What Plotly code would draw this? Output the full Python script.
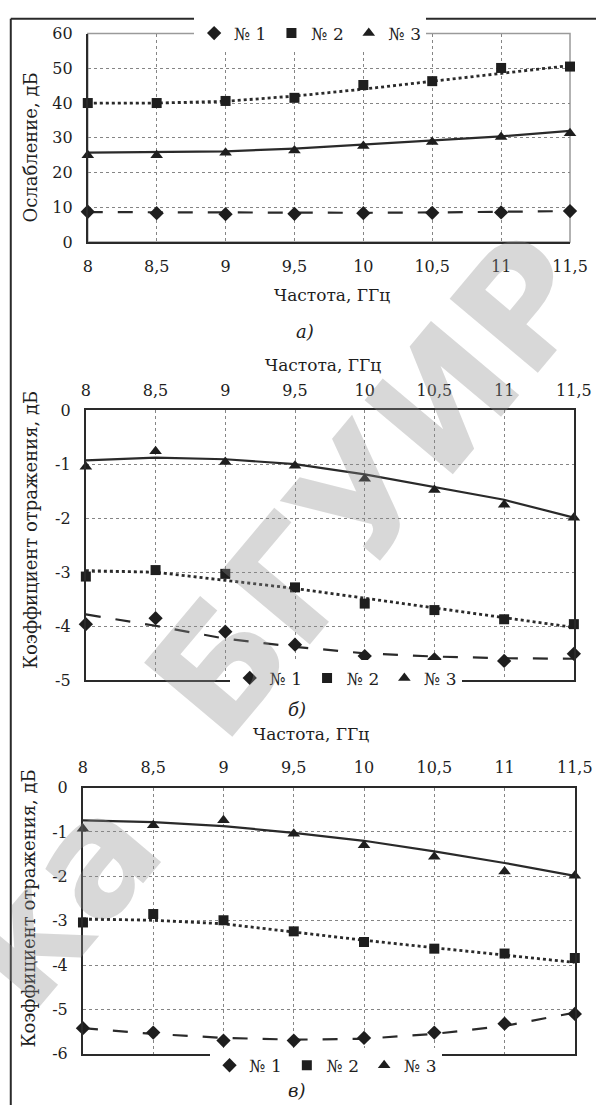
import plotly.graph_objects as go

# ---------------- data ----------------
freq = [8, 8.5, 9, 9.5, 10, 10.5, 11, 11.5]
freq_labels = ["8", "8,5", "9", "9,5", "10", "10,5", "11", "11,5"]
series_names = ["№ 1", "№ 2", "№ 3"]

# panel a) attenuation, dB
a_s1 = [8.7, 8.3, 8.0, 8.1, 8.3, 8.4, 8.5, 8.9]
a_s2 = [40.0, 40.0, 40.6, 41.5, 45.2, 46.3, 50.1, 50.5]
a_s3 = [25.0, 25.0, 25.7, 26.3, 27.6, 28.8, 30.2, 31.3]
a_t1 = [8.6, 8.5, 8.4, 8.4, 8.4, 8.5, 8.7, 8.9]
a_t2 = [40.0, 40.0, 40.5, 42.0, 44.0, 46.2, 48.6, 50.8]
a_t3 = [25.7, 25.8, 26.1, 26.9, 28.0, 29.2, 30.4, 32.0]
a_yticks = [0, 10, 20, 30, 40, 50, 60]

# panel б) reflection coefficient, dB
b_s1 = [-3.96, -3.85, -4.10, -4.34, -4.55, -4.61, -4.64, -4.51]
b_s2 = [-3.08, -2.96, -3.03, -3.28, -3.58, -3.70, -3.87, -3.96]
b_s3 = [-1.05, -0.76, -0.96, -1.03, -1.27, -1.48, -1.75, -1.99]
b_t1 = [-3.78, -3.99, -4.23, -4.38, -4.50, -4.56, -4.59, -4.60]
b_t2 = [-2.97, -3.00, -3.15, -3.30, -3.48, -3.66, -3.84, -4.02]
b_t3 = [-0.93, -0.88, -0.91, -1.00, -1.19, -1.42, -1.66, -1.99]
b_yticks = [0, -1, -2, -3, -4, -5]
b_ylabels = ["0", "-1", "-2", "-3", "-4", "-5"]

# panel в) reflection coefficient, dB
c_s1 = [-5.42, -5.52, -5.70, -5.70, -5.64, -5.52, -5.32, -5.10]
c_s2 = [-3.04, -2.85, -2.99, -3.24, -3.48, -3.63, -3.74, -3.84]
c_s3 = [-0.93, -0.85, -0.74, -1.04, -1.30, -1.56, -1.89, -1.99]
c_t1 = [-5.42, -5.55, -5.64, -5.68, -5.66, -5.55, -5.37, -5.07]
c_t2 = [-2.96, -2.99, -3.07, -3.26, -3.44, -3.61, -3.78, -3.94]
c_t3 = [-0.74, -0.78, -0.87, -1.02, -1.20, -1.44, -1.70, -1.99]
c_yticks = [0, -1, -2, -3, -4, -5, -6]
c_ylabels = ["0", "-1", "-2", "-3", "-4", "-5", "-6"]

# ---------------- styling ----------------
W, H = 614, 1115
SERIF = "DejaVu Serif"
INK = "#1e1e1e"
LINE = "#2a2a2a"
GRID = "#858585"

def px(x):
    return x / W

def py(y):
    return 1 - y / H

symbols = ["diamond", "square", "triangle-up"]
msizes = [11, 10, 11]
dashes = ["longdash", "dot", "solid"]
lwidths = [2.2, 2.8, 2.2]

fig = go.Figure()

panels = [
    ("x", "y", "legend", [a_s1, a_s2, a_s3], [a_t1, a_t2, a_t3]),
    ("x2", "y2", "legend2", [b_s1, b_s2, b_s3], [b_t1, b_t2, b_t3]),
    ("x3", "y3", "legend3", [c_s1, c_s2, c_s3], [c_t1, c_t2, c_t3]),
]

for xa, ya, lg, svals, tvals in panels:
    for i in range(3):
        fig.add_trace(go.Scatter(
            x=freq, y=tvals[i], mode="lines", xaxis=xa, yaxis=ya,
            line=dict(color=LINE, width=lwidths[i], dash=dashes[i]),
            showlegend=False, hoverinfo="skip", cliponaxis=False))
    for i in range(3):
        fig.add_trace(go.Scatter(
            x=freq, y=svals[i], mode="markers", xaxis=xa, yaxis=ya,
            name=series_names[i], legend=lg, cliponaxis=False,
            marker=dict(symbol=symbols[i], size=msizes[i], color=INK)))

tickfont = dict(family=SERIF, size=16, color=INK)
common_x = dict(range=[8, 11.5], tickvals=freq, ticktext=freq_labels,
                showgrid=True, gridcolor=GRID, griddash="dot", gridwidth=1.3,
                zeroline=False, ticks="", tickfont=tickfont,
                showline=True, linecolor=LINE, linewidth=2)
common_y = dict(showgrid=True, gridcolor=GRID, griddash="dot", gridwidth=1.3,
                zeroline=False, ticks="", tickfont=tickfont,
                showline=True, linecolor=LINE, linewidth=2, ticklabelstandoff=10)

fig.update_layout(
    width=W, height=H, margin=dict(l=0, r=0, t=0, b=0),
    paper_bgcolor="white", plot_bgcolor="white",
    font=dict(family=SERIF, color=INK),
    xaxis=dict(common_x, domain=[px(86), px(587)], anchor="y", side="bottom",
               mirror=False, ticklabelstandoff=9),
    yaxis=dict(common_y, domain=[py(237), py(25)], anchor="x",
               range=[0, 60], tickvals=a_yticks, mirror=False),
    xaxis2=dict(common_x, domain=[px(84), px(591)], anchor="y2", side="top",
                mirror=True, ticklabelstandoff=6),
    yaxis2=dict(common_y, domain=[py(683), py(408)], anchor="x2",
                range=[-5, 0], tickvals=b_yticks, ticktext=b_ylabels, mirror=True),
    xaxis3=dict(common_x, domain=[px(81), px(592)], anchor="y3", side="top",
                mirror=True, ticklabelstandoff=6),
    yaxis3=dict(common_y, domain=[py(1063), py(792)], anchor="x3",
                range=[-6, 0], tickvals=c_yticks, ticktext=c_ylabels, mirror=True),
)

legfont = dict(family=SERIF, size=17, color=INK)
fig.update_layout(
    legend=dict(orientation="h", x=px(317), y=py(25), xanchor="center", yanchor="middle",
                bgcolor="white", font=legfont, itemwidth=30, tracegroupgap=0),
    legend2=dict(orientation="h", x=px(354), y=py(681), xanchor="center", yanchor="middle",
                 bgcolor="white", font=legfont, itemwidth=30, tracegroupgap=0),
    legend3=dict(orientation="h", x=px(333), y=py(1075), xanchor="center", yanchor="middle",
                 bgcolor="white", font=legfont, itemwidth=30, tracegroupgap=0),
)

# panel a light border on top/right
fig.add_shape(type="rect", xref="x domain", yref="y domain", x0=0, x1=1, y0=0, y1=1,
              line=dict(color="#9a9a9a", width=1.5), layer="below")

xtitlefont = dict(family=SERIF, size=17, color=INK)
ytitlefont = dict(family=SERIF, size=18, color=INK)
capfont = dict(family=SERIF, size=18, color=INK)
ann = [
    dict(text="Ослабление, дБ", x=px(27), y=py(141), textangle=-90, font=ytitlefont),
    dict(text="Частота, ГГц", x=px(340), y=py(291), font=xtitlefont),
    dict(text="<i>а)</i>", x=px(312), y=py(328), font=capfont),
    dict(text="Частота, ГГц", x=px(330), y=py(362), font=xtitlefont),
    dict(text="Коэффициент отражения, дБ", x=px(27), y=py(530), textangle=-90, font=ytitlefont),
    dict(text="<i>б)</i>", x=px(303), y=py(713), font=capfont),
    dict(text="Частота, ГГц", x=px(318), y=py(738), font=xtitlefont),
    dict(text="Коэффициент отражения, дБ", x=px(24), y=py(915), textangle=-90, font=ytitlefont),
    dict(text="<i>в)</i>", x=px(303), y=py(1100), font=capfont),
]
for a in ann:
    fig.add_annotation(xref="paper", yref="paper", showarrow=False,
                       xanchor="center", yanchor="middle", **a)

# watermark (library stamp), visible part of «Библиотека БГУИР»
wm_font = dict(family="DejaVu Sans", size=158, color="rgba(140,140,140,0.34)")
fig.add_annotation(xref="paper", yref="paper", x=px(380), y=py(485), showarrow=False,
                   xanchor="center", yanchor="middle",
                   text="<b>БГУИР</b>", textangle=-50, font=wm_font)
fig.add_annotation(xref="paper", yref="paper", x=px(55), y=py(905), showarrow=False,
                   xanchor="center", yanchor="middle",
                   text="<b>ка</b>", textangle=-50, font=wm_font)

# outer frame
fig.add_shape(type="line", xref="paper", yref="paper", x0=px(6), x1=px(6), y0=0, y1=py(10),
              line=dict(color=LINE, width=2))
fig.add_shape(type="line", xref="paper", yref="paper", x0=px(6), x1=1, y0=py(10), y1=py(10),
              line=dict(color=LINE, width=2))

fig.write_html("out.html", config={"displayModeBar": False},
               post_script="document.body.style.margin='0';document.body.style.overflow='hidden';")
